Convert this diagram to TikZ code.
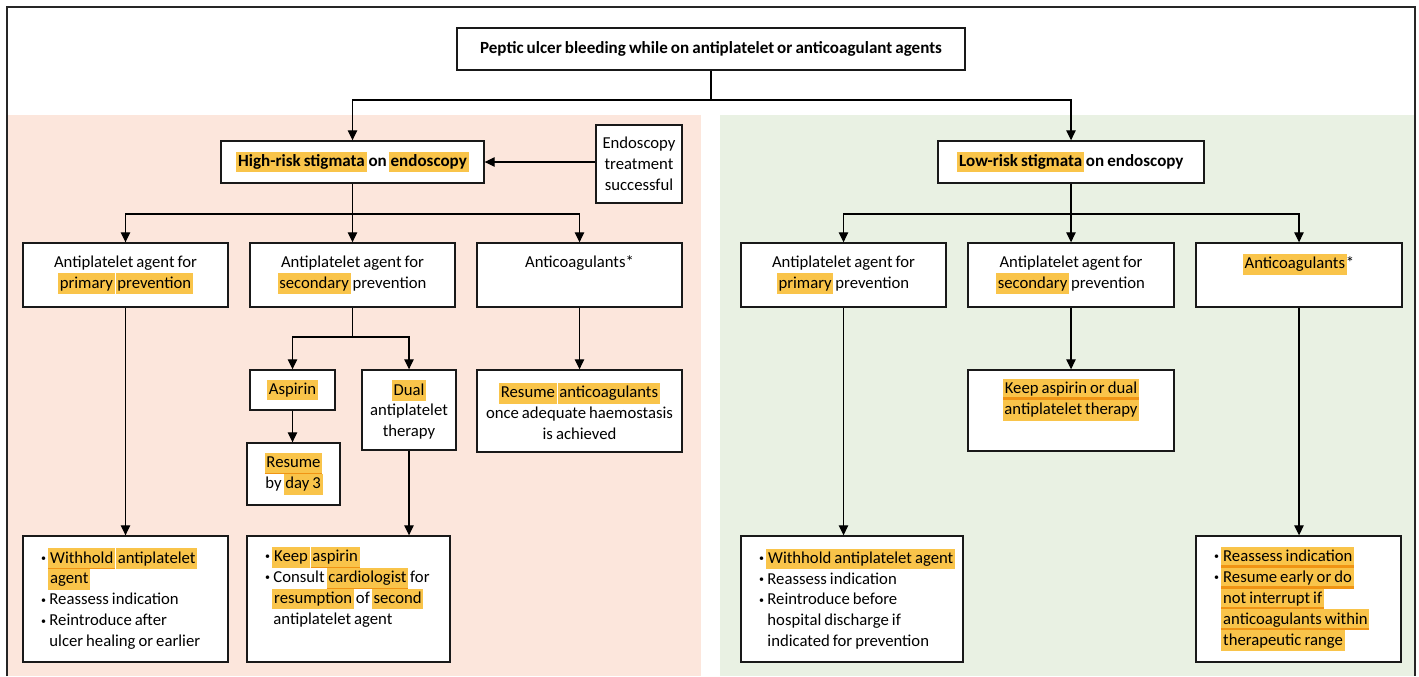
\documentclass[tikz,border=0pt]{standalone}
\usepackage{fontspec}
\setmainfont{Carlito}[WordSpace=0.8]
\usetikzlibrary{arrows.meta}
\definecolor{pinkbg}{RGB}{252,230,220}
\definecolor{greenbg}{RGB}{233,241,227}
\definecolor{hlyel}{RGB}{249,196,74}
\definecolor{hlorg}{RGB}{240,148,20}
\newcommand{\hl}[1]{{\setlength{\fboxsep}{0pt}\kern-0.6pt\colorbox{hlyel}{\strut\kern1pt#1\kern1pt}\kern-0.6pt}}
\newcommand{\hlu}[2][0.6pt]{{\setlength{\fboxsep}{0pt}\sbox0{\strut\kern1pt#2\kern1pt}\kern-0.6pt\colorbox{hlyel}{\rlap{\color{hlorg}\rule[-\dp\strutbox]{\wd0}{#1}}\usebox0}\kern-0.6pt}}
\newcommand{\bitem}[1]{\mbox{\spaceskip=0pt\xspaceskip=0pt\makebox[4.8pt][l]{\raisebox{0.9pt}{\scalebox{0.6}{\textbullet}}}#1}}
\newcommand{\bcont}[1]{\mbox{\spaceskip=0pt\xspaceskip=0pt\hspace*{4.8pt}#1}}
\tikzstyle{box}=[draw=black!90,line width=0.8pt,fill=white,inner sep=0pt,align=center,font=\fontsize{9.5}{11.9}\selectfont]
\tikzstyle{arr}=[-{Triangle[length=0.2cm,width=0.19cm]},line width=0.7pt]

\begin{document}
\begin{tikzpicture}[x=0.02cm,y=-0.02cm]
\useasboundingbox (0,0) rectangle (1419,676);
% background
\fill[pinkbg] (8,115) rectangle (701,676);
\fill[greenbg] (720,115) rectangle (1414,676);
\draw[line width=1.1pt,black!85] (7,676) -- (7,7) -- (1415,7) -- (1415,676);

% boxes
\node[box,minimum width=10.16cm,minimum height=0.84cm,font=\fontsize{9.7}{11.9}\selectfont\bfseries] (title) at (711,49) {Peptic ulcer bleeding while on antiplatelet or anticoagulant agents};
\node[box,minimum width=5.26cm,minimum height=0.84cm,font=\fontsize{9.7}{11.9}\selectfont\bfseries] (high) at (352.5,162) {\hl{High-risk stigmata} on \hl{endoscopy}};
\node[box,minimum width=1.72cm,minimum height=1.56cm] (endo) at (639,164) {Endoscopy\\ treatment\\ successful};
\node[box,minimum width=5.32cm,minimum height=0.84cm,font=\fontsize{9.7}{11.9}\selectfont\bfseries] (low) at (1071,162) {\hl{Low-risk stigmata} on endoscopy};

\node[box,minimum width=4.1cm,minimum height=1.28cm] (hprim) at (125.5,275) {Antiplatelet agent for\\ \hl{primary} \hl{prevention}};
\node[box,minimum width=4.1cm,minimum height=1.28cm] (hsec) at (352.5,275) {Antiplatelet agent for\\ \hl{secondary} prevention};
\node[box,minimum width=4.1cm,minimum height=1.28cm] (hanti) at (579.5,275) {Anticoagulants*\\ \strut};
\node[box,minimum width=4.1cm,minimum height=1.28cm] (lprim) at (843.5,275) {Antiplatelet agent for\\ \hl{primary} prevention};
\node[box,minimum width=4.12cm,minimum height=1.28cm] (lsec) at (1071,275) {Antiplatelet agent for\\ \hl{secondary} prevention};
\node[box,minimum width=4.12cm,minimum height=1.28cm] (lanti) at (1299,275) {\hl{Anticoagulants}*\\ \strut};

\node[box,minimum width=1.7cm,minimum height=0.8cm] (asp) at (292.5,390) {\hl{Aspirin}};
\node[box,minimum width=1.88cm,minimum height=1.6cm] (dual) at (409,410) {\hl{Dual}\\ antiplatelet\\ therapy};
\node[box,minimum width=1.86cm,minimum height=1.24cm] (day3) at (293.5,474) {\hlu{Resume}\\ by \hl{day 3}};
\node[box,minimum width=4.1cm,minimum height=1.64cm] (hresume) at (579.5,411) {\hl{Resume} \hl{anticoagulants}\\ once adequate haemostasis\\ is achieved};
\node[box,minimum width=4.12cm,minimum height=1.62cm] (lkeep) at (1071,410.5) {\hlu[1.6pt]{Keep aspirin or dual}\\ \hl{antiplatelet therapy}\\ \strut};

\node[box,minimum width=4.1cm,minimum height=2.52cm,text width=3.38cm,align=left] (hwith) at (125.5,599) {\bitem{\hlu{Withhold} \hl{antiplatelet}}\\ \bcont{\hl{agent}}\\ \bitem{Reassess indication}\\ \bitem{Reintroduce after}\\ \bcont{ulcer healing or earlier}};
\node[box,minimum width=4.06cm,minimum height=2.52cm,text width=3.34cm,align=left] (hcons) at (348.5,599) {\bitem{\hl{Keep} \hlu{aspirin}}\\ \bitem{Consult \hlu{cardiologist} for}\\ \bcont{\hl{resumption} of \hl{second}}\\ \bcont{antiplatelet agent}\\ \strut};
\node[box,minimum width=4.44cm,minimum height=2.52cm,text width=3.72cm,align=left] (lwith) at (852,599) {\bitem{\hl{Withhold antiplatelet agent}}\\ \bitem{Reassess indication}\\ \bitem{Reintroduce before}\\ \bcont{hospital discharge if}\\ \bcont{indicated for prevention}};
\node[box,minimum width=4.1cm,minimum height=2.52cm,text width=3.38cm,align=left] (lreass) at (1298.5,599) {\bitem{\hlu[1.4pt]{Reassess indication}}\\ \bitem{\hlu[1.4pt]{Resume early or do}}\\ \bcont{\hlu[1.4pt]{not interrupt if}}\\ \bcont{\hlu[1.4pt]{anticoagulants within}}\\ \bcont{\hl{therapeutic range}}};

% split points
\coordinate (topsplit) at (711,100);
\coordinate (hsplit) at (352.5,214);
\coordinate (lsplit) at (1071,214);
\coordinate (ssplit) at (352.5,337);

% edges and paths
\draw[line width=0.7pt] (title) -- (topsplit);
\draw[arr] (topsplit) -| (high);
\draw[arr] (topsplit) -| (low);
\draw[arr] (endo.west |- high.east) -- (high.east);
\draw[line width=0.7pt] (high) -- (hsplit);
\draw[arr] (hsplit) -| (hprim);
\draw[arr] (hsplit) -- (hsec);
\draw[arr] (hsplit) -| (hanti);
\draw[line width=0.7pt] (low) -- (lsplit);
\draw[arr] (lsplit) -| (lprim);
\draw[arr] (lsplit) -- (lsec);
\draw[arr] (lsplit) -| (lanti);
\draw[line width=0.7pt] (hsec) -- (ssplit);
\draw[arr] (ssplit) -| (asp);
\draw[arr] (ssplit) -| (dual);
\draw[arr] (asp.south) -- (asp.south |- day3.north);
\draw[arr] (dual.south) -- (dual.south |- hcons.north);
\draw[arr] (hprim.south) -- (hprim.south |- hwith.north);
\draw[arr] (hanti) -- (hresume);
\draw[arr] (lprim.south) -- (lprim.south |- lwith.north);
\draw[arr] (lsec) -- (lkeep);
\draw[arr] (lanti.south) -- (lanti.south |- lreass.north);
\end{tikzpicture}
\end{document}
